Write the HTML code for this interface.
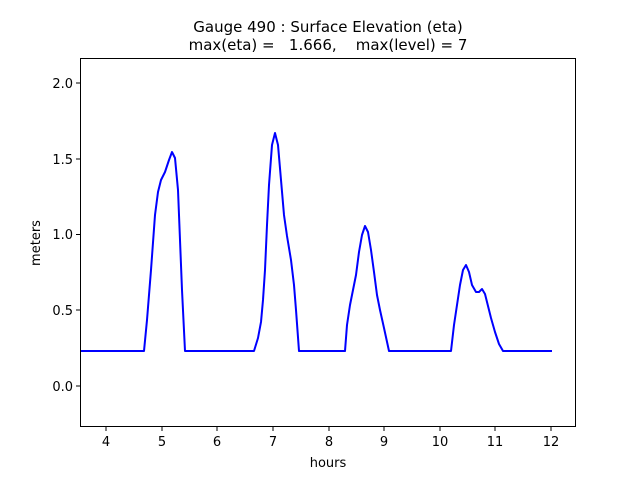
<!DOCTYPE html>
<html><head><meta charset="utf-8"><style>body{margin:0;background:#fff}</style></head><body>
<svg width="640" height="480" xmlns="http://www.w3.org/2000/svg" font-family="DejaVu Sans, Liberation Sans, sans-serif">
<rect width="640" height="480" fill="#fff"/>
<text x="328" y="32" font-size="15" text-anchor="middle" fill="#000">Gauge 490 : Surface Elevation (eta)</text>
<text x="328" y="50" font-size="15" text-anchor="middle" fill="#000" xml:space="preserve">max(eta) =   1.666,    max(level) = 7</text>
<polyline fill="none" stroke="#0000ff" stroke-width="2" stroke-linejoin="round" points="80,351 144,351 147,320 151,270 155,215 158,192 161,180 165,172 169,160 172,152 175,158 178,190 180,240 182,290 185,351 254,351 258,338 261,322 263,300 265,270 267,225 269,185 272,145 275,133 278,145 281,180 284,215 287,236 291,260 294,285 296,310 299,351 345,351 347,325 350,305 353,290 356,275 359,252 362,235 365,226 368,232 371,250 374,272 377,295 380,310 384,328 389,351 451,351 454,325 457,305 460,285 463,270 466,265 469,272 472,285 476,292 479,292 482,289 485,294 488,306 491,318 495,332 499,344 503,351 552,351"/>
<rect x="80.5" y="58.5" width="495" height="368" fill="none" stroke="#000" stroke-width="1"/>
<g stroke="#000" stroke-width="1">
<line x1="106" y1="427" x2="106" y2="431"/><line x1="162" y1="427" x2="162" y2="431"/><line x1="217" y1="427" x2="217" y2="431"/><line x1="273" y1="427" x2="273" y2="431"/><line x1="329" y1="427" x2="329" y2="431"/><line x1="384" y1="427" x2="384" y2="431"/><line x1="440" y1="427" x2="440" y2="431"/><line x1="495" y1="427" x2="495" y2="431"/><line x1="551" y1="427" x2="551" y2="431"/>
<line x1="76" y1="386" x2="80" y2="386"/><line x1="76" y1="310" x2="80" y2="310"/><line x1="76" y1="234.5" x2="80" y2="234.5"/><line x1="76" y1="159" x2="80" y2="159"/><line x1="76" y1="83" x2="80" y2="83"/>
</g>
<g font-size="13" fill="#000" text-anchor="middle">
<text x="106" y="446">4</text><text x="162" y="446">5</text><text x="217" y="446">6</text><text x="273" y="446">7</text><text x="329" y="446">8</text><text x="384" y="446">9</text><text x="440" y="446">10</text><text x="495" y="446">11</text><text x="551" y="446">12</text>
<text x="328" y="467">hours</text>
</g>
<g font-size="13" fill="#000" text-anchor="end">
<text x="73" y="391">0.0</text><text x="73" y="315">0.5</text><text x="73" y="239">1.0</text><text x="73" y="164">1.5</text><text x="73" y="88">2.0</text>
</g>
<text x="40" y="243" font-size="13" text-anchor="middle" transform="rotate(-90 40 243)">meters</text>
</svg>
</body></html>
